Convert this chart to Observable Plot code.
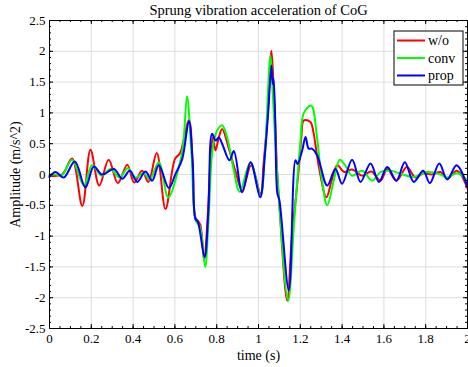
<!DOCTYPE html>
<html><head><meta charset="utf-8">
<script src="https://cdn.jsdelivr.net/npm/d3@7"></script>
<script src="https://cdn.jsdelivr.net/npm/@observablehq/plot@0.6"></script>
<style>
body{margin:0;background:#fff}
#chart svg{font-family:"Liberation Serif","DejaVu Serif",serif}
</style>
</head><body><div id="chart"></div>
<script>
// ---- data ----
const seriesNames = ["w/o", "conv", "prop"];
const seriesColors = ["#ff0000", "#00ff00", "#0000ff"];

const tW = [0,0.06,0.108,0.157,0.196,0.238,0.283,0.327,0.372,0.405,0.443,0.473,0.513,0.555,0.6,0.625,0.667,0.685,0.698,0.71,0.722,0.74,0.755,0.77,0.782,0.794,0.81,0.826,0.86,0.89,0.922,0.965,1.01,1.025,1.045,1.062,1.075,1.09,1.1,1.137,1.16,1.19,1.205,1.217,1.249,1.262,1.29,1.325,1.35,1.377,1.41,1.448,1.496,1.54,1.584,1.616,1.66,1.71,1.751,1.79,1.83,1.871,1.903,1.95,2.0];
const vW = [-0.02,0.0,0.26,-0.51,0.40,-0.18,0.24,-0.14,0.16,-0.13,0.06,-0.12,0.35,-0.56,0.25,0.35,0.89,0.2,-0.7,-0.75,-0.82,-1.40,-0.8,0.2,0.6,0.39,0.6,0.74,0.4,0.05,-0.26,0.15,-0.31,0.2,1.0,2.01,1.2,0.0,-0.5,-2.05,-1.0,0.0,0.6,0.88,0.85,0.7,0.1,-0.37,-0.1,0.15,0.04,0.08,-0.02,0.05,-0.1,0.09,-0.1,0.12,-0.05,0.02,0.0,0.04,-0.07,0.06,-0.23];

const tC = [0,0.03,0.06,0.108,0.164,0.204,0.25,0.292,0.335,0.375,0.41,0.45,0.48,0.523,0.568,0.619,0.64,0.658,0.68,0.7,0.72,0.745,0.76,0.78,0.8,0.826,0.85,0.88,0.91,0.962,1.01,1.03,1.057,1.07,1.09,1.142,1.17,1.2,1.217,1.252,1.28,1.3,1.329,1.36,1.389,1.42,1.448,1.496,1.544,1.584,1.632,1.69,1.743,1.807,1.863,1.903,1.95,2.0];
const vC = [0.0,0.0,-0.01,0.24,-0.18,0.15,-0.02,0.09,-0.05,0.1,-0.05,0.02,-0.08,0.2,-0.37,0.12,0.5,1.27,0.3,-0.75,-0.85,-1.5,-0.8,0.4,0.7,0.8,0.6,0.1,-0.28,0.2,-0.34,0.3,1.93,1.2,0.0,-2.05,-0.8,0.5,1.0,1.12,0.6,0.0,-0.5,-0.1,0.24,0.12,-0.02,0.06,-0.1,0.04,0.06,0.0,-0.04,0.04,0.01,-0.05,0.02,-0.1];

const tP = [0,0.029,0.068,0.121,0.172,0.212,0.252,0.308,0.348,0.384,0.42,0.459,0.491,0.523,0.571,0.603,0.635,0.667,0.685,0.698,0.71,0.742,0.76,0.778,0.795,0.81,0.826,0.861,0.882,0.922,0.962,1.008,1.03,1.045,1.062,1.068,1.072,1.08,1.09,1.1,1.145,1.177,1.187,1.209,1.225,1.24,1.255,1.281,1.329,1.368,1.40,1.448,1.488,1.536,1.576,1.616,1.66,1.70,1.743,1.788,1.82,1.865,1.903,1.948,2.0];
const vP = [-0.04,0.04,-0.05,0.21,-0.21,0.13,0.0,0.09,-0.07,0.06,-0.12,0.05,-0.1,0.15,-0.22,0.01,0.25,0.87,0.2,-0.72,-0.77,-1.34,-0.6,0.66,0.55,0.6,0.5,0.23,0.38,-0.29,0.2,-0.37,0.3,0.95,1.77,1.47,1.55,0.9,-0.3,-0.42,-1.88,0.23,0.17,0.39,0.61,0.42,0.42,0.31,-0.18,0.09,-0.15,0.24,-0.12,0.18,-0.12,0.12,-0.1,0.2,-0.12,0.06,-0.14,0.18,-0.08,0.15,-0.2];

const xMajor = [0,0.2,0.4,0.6,0.8,1,1.2,1.4,1.6,1.8,2];
const yMajor = [-2.5,-2,-1.5,-1,-0.5,0,0.5,1,1.5,2,2.5];
const xMinor = d3.range(0, 2.0001, 0.05);
const yMinor = d3.range(-2.5, 2.5001, 0.1);

const titleText = "Sprung vibration acceleration of CoG";
const xLabel = "time (s)";
const yLabel = "Amplitude (m/s^2)";

// ---- build table ----
const rows = [];
[[tW, vW, "w/o"], [tC, vC, "conv"], [tP, vP, "prop"]].forEach(([ts, vs, s]) => {
  ts.forEach((t, i) => rows.push({t, v: vs[i], series: s}));
});

const W = 468, H = 367;
const mL = 49, mR = 1, mT = 20, mB = 39;
const fw = W - mL - mR, fh = H - mT - mB;
const fmt = d => String(+d.toFixed(2));
const FF = '"Liberation Serif","DejaVu Serif",serif';

const chart = Plot.plot({
  width: W, height: H,
  marginLeft: mL, marginRight: mR, marginTop: mT, marginBottom: mB,
  style: {fontFamily: FF, fontSize: "13px", background: "#fff", color: "#000"},
  x: {domain: [0, 2]},
  y: {domain: [-2.5, 2.5]},
  color: {domain: seriesNames, range: seriesColors},
  marks: [
    Plot.gridX(xMajor, {stroke: "#dedede", strokeOpacity: 1}),
    Plot.gridY(yMajor, {stroke: "#dedede", strokeOpacity: 1}),
    Plot.line(rows, {x: "t", y: "v", z: "series", stroke: "series", curve: "catmull-rom", strokeWidth: 2}),
    // inward ticks, major
    Plot.tickX(xMajor, {x: d => d, insetTop: fh - 4, stroke: "#000"}),
    Plot.tickX(xMajor, {x: d => d, insetBottom: fh - 4, stroke: "#000"}),
    Plot.tickY(yMajor, {y: d => d, insetRight: fw - 4, stroke: "#000"}),
    Plot.tickY(yMajor, {y: d => d, insetLeft: fw - 4, stroke: "#000"}),
    // minor
    Plot.tickX(xMinor, {x: d => d, insetTop: fh - 2, stroke: "#000"}),
    Plot.tickX(xMinor, {x: d => d, insetBottom: fh - 2, stroke: "#000"}),
    Plot.tickY(yMinor, {y: d => d, insetRight: fw - 2, stroke: "#000"}),
    Plot.tickY(yMinor, {y: d => d, insetLeft: fw - 2, stroke: "#000"}),
    Plot.frame({stroke: "#000"}),
    Plot.axisX(xMajor, {tickSize: 0, tickPadding: 5, tickFormat: fmt, label: null, fontSize: 13}),
    Plot.axisY(yMajor, {tickSize: 0, tickPadding: 4, tickFormat: fmt, label: null, fontSize: 13}),
    Plot.text([titleText], {text: d => d, frameAnchor: "top", lineAnchor: "middle", dy: -10, fontSize: 14.5}),
    Plot.text([xLabel], {text: d => d, frameAnchor: "bottom", lineAnchor: "middle", dy: 27, fontSize: 14}),
    Plot.text([yLabel], {text: d => d, frameAnchor: "left", textAnchor: "middle", lineAnchor: "middle", dx: -34, rotate: -90, fontSize: 14})
  ]
});
document.getElementById("chart").appendChild(chart);

// ---- legend box (inside plot, top-right) ----
const svg = d3.select(chart);
const lg = svg.append("g").attr("transform", `translate(${mL + fw - 73},${mT + 11})`)
  .attr("text-anchor", "start").attr("font-family", FF);
lg.append("rect").attr("x", 0).attr("y", 0).attr("width", 69).attr("height", 54)
  .attr("fill", "#fff").attr("stroke", "#000").attr("stroke-width", 1);
seriesNames.forEach((name, i) => {
  const y = 9.5 + i * 17.5;
  lg.append("line").attr("x1", 3).attr("x2", 31).attr("y1", y).attr("y2", y)
    .attr("stroke", seriesColors[i]).attr("stroke-width", 2);
  lg.append("text").attr("x", 34).attr("y", y).attr("dy", "0.35em")
    .attr("font-size", 14).text(name);
});
</script></body></html>
